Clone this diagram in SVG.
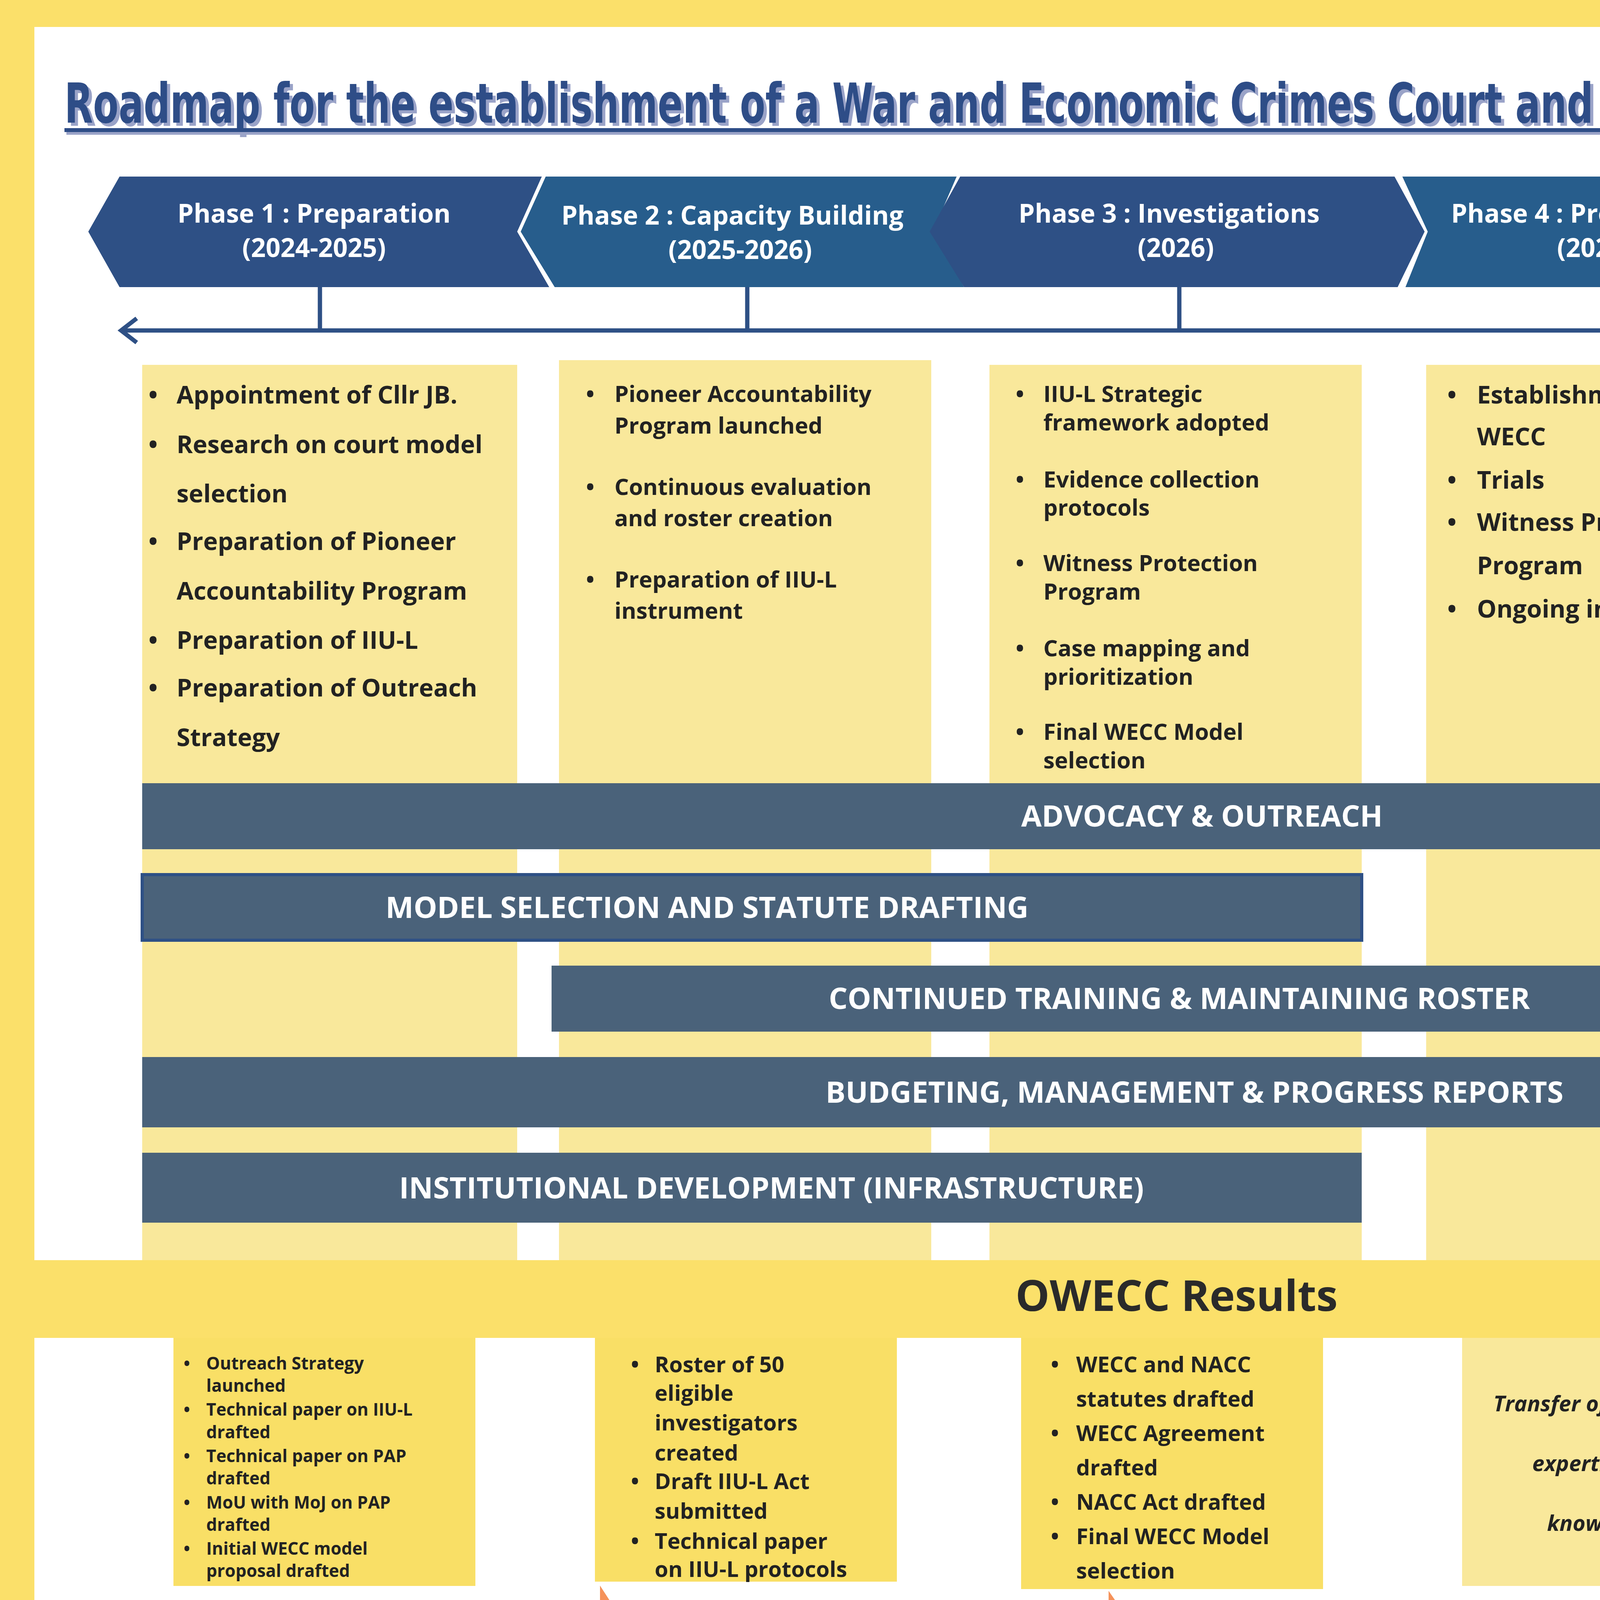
<svg xmlns="http://www.w3.org/2000/svg" width="6000" height="4800" viewBox="0 0 6000 4800">
<style>
.ph{font-family:"Open Sans","DejaVu Sans",sans-serif;font-weight:700;font-size:66px;fill:#fff;text-anchor:middle}
.b{font-family:"Open Sans","DejaVu Sans",sans-serif;font-weight:700;font-size:63px;fill:#222}
.bs{font-family:"Open Sans","DejaVu Sans",sans-serif;font-weight:700;font-size:58px;fill:#222}
.r1{font-family:"Open Sans","DejaVu Sans",sans-serif;font-weight:700;font-size:44px;fill:#222}
.r{font-family:"Open Sans","DejaVu Sans",sans-serif;font-weight:700;font-size:56px;fill:#222}
.bar{fill:#4a627a}
.bt{font-family:"Open Sans","DejaVu Sans",sans-serif;font-weight:700;font-size:76px;fill:#fff;text-anchor:middle}
.col{fill:#f9e89b}
.res{fill:#f9df66}
.arr{fill:#fff;stroke:#f5925a;stroke-width:26}
.at{font-family:"Open Sans","DejaVu Sans",sans-serif;font-weight:700;font-size:68px;fill:#222}
.tl{stroke:#2e5085;stroke-width:11;fill:none}
</style>
<rect width="6000" height="4800" fill="#fbe06a"/>
<rect x="88" y="69" width="5844" height="3157" fill="#fff"/>
<rect x="88" y="3425" width="5844" height="1309" fill="#fff"/>

<g id="title">
<text x="173" y="322" font-family="DejaVu Sans Condensed,DejaVu Sans,sans-serif" font-weight="700" font-size="140" fill="#9aa3c8" textLength="5690" lengthAdjust="spacingAndGlyphs">Roadmap for the establishment of a War and Economic Crimes Court and a National Anti-Corruption Court</text>
<text x="165" y="314" font-family="DejaVu Sans Condensed,DejaVu Sans,sans-serif" font-weight="700" font-size="140" fill="#2e4d87" textLength="5690" lengthAdjust="spacingAndGlyphs">Roadmap for the establishment of a War and Economic Crimes Court and a National Anti-Corruption Court</text>
<rect x="170" y="335" width="5690" height="10" fill="#9aa3c8"/>
<rect x="165" y="328" width="5690" height="10" fill="#2e4d87"/>
</g>

<g id="phase1"><polygon points="226,593 306,452 1387,452 1324,593 1406,735 306,735" fill="#2e5085"/>
<text class="ph" x="804" y="570">Phase 1 : Preparation</text><text class="ph" x="804" y="658">(2024-2025)</text></g>
<g id="phase2"><polygon points="1333,593 1397,452 2449,452 2388,593 2468,735 1420,735" fill="#275d8c"/>
<text class="ph" x="1875" y="575">Phase 2 :  Capacity Building</text><text class="ph" x="1895" y="663">(2025-2026)</text></g>
<g id="phase3"><polygon points="2380,593 2458,452 3570,452 3647,593 3578,735 2468,735" fill="#2e5085"/>
<text class="ph" x="2993" y="570">Phase 3 :  Investigations</text><text class="ph" x="3010" y="658">(2026)</text></g>
<g id="phase4"><polygon points="3590,452 4669,452 4745,593 4680,735 3598,735 3655,593" fill="#275d8c"/>
<text class="ph" x="4152" y="570">Phase 4 :  Prosecution/Trial</text><text class="ph" x="4170" y="658">(2027-2031)</text></g>
<g id="phase5"><polygon points="4690,452 5714,452 5771,593 5714,735 4700,735 4757,593" fill="#2e5085"/>
<text class="ph" x="5243" y="575">Phase 5 :  Transition  (WECC)</text><text class="ph" x="5243" y="663">(2032-2033)</text></g>

<g id="connectors">
<line class="tl" x1="315" y1="846" x2="5610" y2="846"/>
<polyline class="tl" points="350,815 310,846 350,877"/>
<polyline class="tl" points="5575,815 5615,846 5575,877"/>
<line class="tl" x1="819" y1="735" x2="819" y2="846"/>
<line class="tl" x1="1913" y1="735" x2="1913" y2="846"/>
<line class="tl" x1="3019" y1="735" x2="3019" y2="846"/>
<line class="tl" x1="4152" y1="735" x2="4152" y2="846"/>
<line class="tl" x1="5197" y1="735" x2="5197" y2="846"/>
<line x1="1730" y1="4382" x2="1948" y2="4382" stroke="#f5925a" stroke-width="26"/>
<line x1="3043" y1="4391" x2="3249" y2="4391" stroke="#f5925a" stroke-width="26"/>
<line x1="4344" y1="4413" x2="4504" y2="4413" stroke="#f5925a" stroke-width="26"/>
</g>

<g id="col1"><rect class="col" x="364" y="934" width="960" height="2292"/>
<g class="b"><text x="380" y="1033">•</text><text x="452" y="1033">Appointment of Cllr JB.</text>
<text x="380" y="1160">•</text><text x="452" y="1160">Research on court model</text><text x="452" y="1286">selection</text>
<text x="380" y="1408">•</text><text x="452" y="1408">Preparation of Pioneer</text><text x="452" y="1535">Accountability Program</text>
<text x="380" y="1661">•</text><text x="452" y="1661">Preparation of IIU-L</text>
<text x="380" y="1783">•</text><text x="452" y="1783">Preparation of Outreach</text><text x="452" y="1910">Strategy</text></g></g>
<g id="col2"><rect class="col" x="1431" y="922" width="953" height="2304"/>
<g class="bs"><text x="1500" y="1029">•</text><text x="1573" y="1029">Pioneer Accountability</text><text x="1573" y="1110">Program launched</text>
<text x="1500" y="1267">•</text><text x="1573" y="1267">Continuous evaluation</text><text x="1573" y="1347">and roster creation</text>
<text x="1500" y="1504">•</text><text x="1573" y="1504">Preparation of IIU-L</text><text x="1573" y="1584">instrument</text></g></g>
<g id="col3"><rect class="col" x="2533" y="934" width="953" height="2292"/>
<g class="bs"><text x="2600" y="1029">•</text><text x="2671" y="1029">IIU-L Strategic</text><text x="2671" y="1102">framework adopted</text>
<text x="2600" y="1248">•</text><text x="2671" y="1248">Evidence collection</text><text x="2671" y="1320">protocols</text>
<text x="2600" y="1462">•</text><text x="2671" y="1462">Witness Protection</text><text x="2671" y="1535">Program</text>
<text x="2600" y="1680">•</text><text x="2671" y="1680">Case mapping and</text><text x="2671" y="1753">prioritization</text>
<text x="2600" y="1894">•</text><text x="2671" y="1894">Final WECC Model</text><text x="2671" y="1967">selection</text></g></g>
<g id="col4"><rect class="col" x="3651" y="934" width="953" height="2292"/>
<g class="b"><text x="3705" y="1033">•</text><text x="3781" y="1033">Establishment of the</text><text x="3781" y="1140">WECC</text>
<text x="3705" y="1251">•</text><text x="3781" y="1251">Trials</text>
<text x="3705" y="1359">•</text><text x="3781" y="1359">Witness Protection</text><text x="3781" y="1470">Program</text>
<text x="3705" y="1581">•</text><text x="3781" y="1581">Ongoing investigations</text></g></g>
<g id="col5"><rect class="col" x="4715" y="934" width="953" height="2292"/>
<g class="b"><text x="4760" y="1033">•</text><text x="4837" y="1033">Appeals and judgment</text><text x="4837" y="1144">reviews</text>
<text x="4760" y="1255">•</text><text x="4837" y="1255">Archiving</text>
<text x="4760" y="1370">•</text><text x="4837" y="1370">Educational programs</text><text x="4837" y="1481">on WECC</text></g></g>

<g id="bar-advocacy"><rect class="bar" x="364" y="2005" width="5304" height="169"/><text class="bt" x="3077" y="2116">ADVOCACY &amp; OUTREACH</text></g>
<g id="bar-model"><rect class="bar" x="364" y="2239" width="3122" height="168" stroke="#2e5085" stroke-width="8"/><text class="bt" x="1810" y="2350">MODEL SELECTION AND STATUTE DRAFTING</text></g>
<g id="bar-training"><rect class="bar" x="1412" y="2472" width="3192" height="169"/><text class="bt" x="3019" y="2583">CONTINUED TRAINING  &amp; MAINTAINING ROSTER</text></g>
<g id="bar-budget"><rect class="bar" x="364" y="2706" width="5304" height="180"/><text class="bt" x="3058" y="2823">BUDGETING, MANAGEMENT &amp; PROGRESS REPORTS</text></g>
<g id="bar-inst"><rect class="bar" x="364" y="2951" width="3122" height="179"/><text class="bt" x="1975" y="3068">INSTITUTIONAL DEVELOPMENT (INFRASTRUCTURE)</text></g>

<g id="results-title"><text x="3012" y="3356" font-family="Open Sans,DejaVu Sans,sans-serif" font-weight="700" font-size="110" fill="#2a2a2a" text-anchor="middle">OWECC Results</text></g>

<g id="res1"><rect class="res" x="444" y="3425" width="773" height="635"/>
<g class="r1"><text x="470" y="3506">•</text><text x="528" y="3506">Outreach Strategy</text><text x="528" y="3563">launched</text>
<text x="470" y="3624">•</text><text x="528" y="3624">Technical paper on IIU-L</text><text x="528" y="3682">drafted</text>
<text x="470" y="3743">•</text><text x="528" y="3743">Technical paper on PAP</text><text x="528" y="3800">drafted</text>
<text x="470" y="3862">•</text><text x="528" y="3862">MoU with MoJ on PAP</text><text x="528" y="3919">drafted</text>
<text x="470" y="3980">•</text><text x="528" y="3980">Initial WECC model</text><text x="528" y="4037">proposal drafted</text></g></g>
<g id="res2"><rect class="res" x="1523" y="3425" width="773" height="624"/>
<g class="r"><text x="1615" y="3513">•</text><text x="1676" y="3513">Roster of 50</text><text x="1676" y="3586">eligible</text><text x="1676" y="3662">investigators</text><text x="1676" y="3739">created</text>
<text x="1615" y="3812">•</text><text x="1676" y="3812">Draft IIU-L Act</text><text x="1676" y="3888">submitted</text>
<text x="1615" y="3965">•</text><text x="1676" y="3965">Technical paper</text><text x="1676" y="4037">on IIU-L protocols</text></g></g>
<g id="res3"><rect class="res" x="2614" y="3425" width="773" height="643"/>
<g class="r"><text x="2690" y="3513">•</text><text x="2755" y="3513">WECC and NACC</text><text x="2755" y="3601">statutes drafted</text>
<text x="2690" y="3689">•</text><text x="2755" y="3689">WECC Agreement</text><text x="2755" y="3777">drafted</text>
<text x="2690" y="3865">•</text><text x="2755" y="3865">NACC Act drafted</text>
<text x="2690" y="3953">•</text><text x="2755" y="3953">Final WECC Model</text><text x="2755" y="4041">selection</text></g></g>
<g id="res4"><rect class="col" x="3743" y="3425" width="777" height="635"/>
<g class="r" font-style="italic" text-anchor="middle"><text x="4103" y="3613">Transfer of O-WECC-L</text><text x="4103" y="3766">expertise and</text><text x="4103" y="3919">knowledge</text></g></g>
<g id="res5"><rect class="col" x="4814" y="3425" width="777" height="635"/></g>

<g id="legal"><path d="M0,4187 H390 A176,176 0 0 1 390,4539 H0 Z" fill="#f5925a"/>
<g class="at" text-anchor="middle" font-size="70"><text x="237" y="4293">Legal/</text><text x="237" y="4373">political</text><text x="237" y="4455">instruments</text></g></g>

<g id="arrow1"><polygon class="arr" points="631,4202 1549,4202 1549,4103 1730,4382 1549,4669 1549,4554 631,4554"/>
<text class="at" x="693" y="4321" textLength="907" lengthAdjust="spacing">MoU    between    O-WECC</text><text class="at" x="693" y="4405">and MoJ on PAP signed</text></g>
<g id="arrow2"><polygon class="arr" points="1948,4221 2851,4221 2851,4114 3043,4391 2851,4684 2851,4562 1948,4562"/>
<text class="at" x="2063" y="4413">IIU-L Act promulgated</text></g>
<g id="arrow3"><polygon class="arr" points="3249,4240 4160,4240 4160,4133 4344,4413 4160,4692 4160,4589 3249,4589"/>
<text class="at" x="3352" y="4363">WECC  Agreement  signed</text><text class="at" x="3352" y="4443">and implemented</text><text class="at" x="3352" y="4524">NAAC Act promulgated</text></g>
<g id="arrow4"><polygon class="arr" points="4504,4229 5408,4229 5408,4126 5607,4405 5408,4703 5408,4577 4504,4577"/>
<text class="at" x="5021" y="4401" text-anchor="middle">Residual mechanism</text><text class="at" x="5021" y="4481" text-anchor="middle">established</text></g>
</svg>
